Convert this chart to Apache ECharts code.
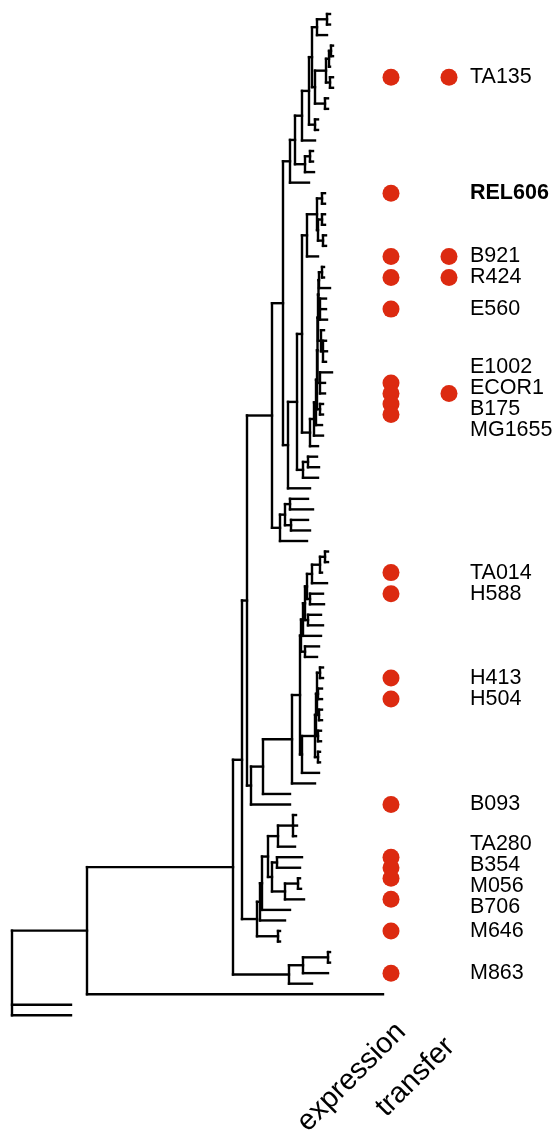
<!DOCTYPE html>
<html>
<head>
<meta charset="utf-8">
<script src="https://cdn.jsdelivr.net/npm/echarts/dist/echarts.min.js"></script>
<style>
  html, body { margin: 0; padding: 0; background: #ffffff; }
  #chart { width: 555px; height: 1134px; }
</style>
</head>
<body>
<div id="chart"></div>
<script>
// ---------------- DATA ----------------
// Phylogeny in Newick form; the number after ":" is the node's depth from the root.
const TOP_CLADE = "(((((((:318,:318):315,:315):305,((((:321,:321):319,:318):317,(TA135:321,:321):318):314,(:316,:316):313):303):300,(:306,:306):303):297,:303):290,((:301,:301):298,:302):293):283,:297):278";
const REL_CLADE = "(((REL606:313,:313):310,((:313,:313):310,(:314,:314):311):306):305,B921:306):295";
const K12_CLADE = "(((((((((:312,R424:312):310,:318):307,(:314,E560:314,:315):308):306.5,(:312,(:314,:315,:314):311):309):306,(:320,E1002:313,ECOR1:313):308):305.5,(B175:311,MG1655:311):308):305,:310):304,:311):302,:306):298";
const S_CLADE   = "((:305,:307):296,:306):291";
const K_CLADE   = "(((:296,:301):278,(:296,:298):279):273,:295):268";
const H1_CLADE  = "(((((((:316,:316):313,TA014:310):308,:315):300,(H588:311,:312):298):295,(:309,:311):296):293,:309):291,(:307,:305):293):289";
const H2_CLADE  = "(((((:311,H413:311):308,(:310,H504:310):306,(:310,:310):307):305,(:309,:309):306):304,(:308,:308):306):303,:307):290";
const TA_CLADE  = "((((((:284,:285,:284):281,:283):266,((TA280:290,B354:288):265,((M056:288,:289):286,B706:292):273):260):256,:278):250,:273):248,(M646:268,:268):266):245";
const M_CLADE   = "(((:318,:318):316,M863:316):291,:300):277";
const OUT_TIP_DEPTH = 371;
const OUTGROUP_DEPTH = 59;

// Strains with marks
const strains    = ['TA135','REL606','B921','R424','E560','E1002','ECOR1','B175','MG1655','TA014','H588','H413','H504','B093','TA280','B354','M056','B706','M646','M863'];
const expression = [1,1,1,1,1,1,1,1,1,1,1,1,1,1,1,1,1,1,1,1];
const transfer   = [1,0,1,1,0,0,1,0,0,0,0,0,0,0,0,0,0,0,0,0];
const columns    = ['expression','transfer'];
const boldStrain = 'REL606';

// ---------------- BUILD ----------------
const MID = `(((${REL_CLADE},${K12_CLADE}):290,${S_CLADE}):285,:298):276`;
const A2 = `((${TOP_CLADE},${MID}):271,${K_CLADE}):260`;
const HCL = `((((${H1_CLADE},${H2_CLADE}):288,:303):280,:278):251,B093:278):239`;
const X247 = `(${A2},${HCL}):235`;
const NEWICK = `((((${X247},${TA_CLADE}):230,${M_CLADE}):221,:${OUT_TIP_DEPTH}):75,:${OUTGROUP_DEPTH},:${OUTGROUP_DEPTH});`;

function parseNewick(s) {
  let i = 0;
  function node() {
    const n = { children: [], name: '', depth: 0 };
    if (s[i] === '(') {
      i++;
      n.children.push(node());
      while (s[i] === ',') { i++; n.children.push(node()); }
      i++; // ')'
    }
    let name = '';
    while (i < s.length && !':,();'.includes(s[i])) name += s[i++];
    n.name = name;
    if (s[i] === ':') {
      i++;
      let num = '';
      while (i < s.length && /[0-9.eE+\-]/.test(s[i])) num += s[i++];
      n.depth = parseFloat(num);
    }
    return n;
  }
  return node();
}

const tree = parseNewick(NEWICK);
let leafCount = 0;
const tipIndex = {};
function layout(n) {
  if (!n.children.length) { n.y = leafCount++; if (n.name) tipIndex[n.name] = n.y; }
  else {
    n.children.forEach(layout);
    n.y = (n.children[0].y + n.children[n.children.length - 1].y) / 2;
  }
}
layout(tree);
const nTips = leafCount;

const segments = [];
function collect(n, parent) {
  if (parent) segments.push([parent.depth, n.y, n.depth, n.y]);
  if (n.children.length) {
    segments.push([n.depth, n.children[0].y, n.depth, n.children[n.children.length - 1].y]);
    n.children.forEach(c => collect(c, n));
  }
}
collect(tree, null);

// dots
const exprDots = [], transDots = [];
strains.forEach((s, k) => {
  if (expression[k]) exprDots.push([columns[0], tipIndex[s]]);
  if (transfer[k]) transDots.push([columns[1], tipIndex[s]]);
});

// label de-overlap (groups centred on their tips, minimum gap of 2 tips)
const MIN_GAP = 2;
const order = strains.map((s) => ({ name: s, tip: tipIndex[s] })).sort((a, b) => a.tip - b.tip);
let groups = order.map(o => [o]);
function place(g) { const m = g.reduce((a, o) => a + o.tip, 0) / g.length; g.forEach((o, k) => { o.pos = m + (k - (g.length - 1) / 2) * MIN_GAP; }); }
groups.forEach(place);
let changed = true;
while (changed) {
  changed = false;
  for (let k = 0; k < groups.length - 1; k++) {
    const a = groups[k], b = groups[k + 1];
    if (b[0].pos - a[a.length - 1].pos < MIN_GAP - 1e-6) {
      const g = a.concat(b); place(g);
      groups.splice(k, 2, g); changed = true; break;
    }
  }
}
const labelData = [];
groups.forEach(g => g.forEach(o => {
  labelData.push({
    name: o.name, value: [columns[1], o.pos],
    label: o.name === boldStrain ? { fontWeight: 'bold' } : {}
  });
}));

// ---------------- CHART ----------------
const FONT = '"Liberation Sans", Arial, Helvetica, sans-serif';
const TOP = 14, BOTTOM = 1134 - (14 + 95 * 10.54);
const RED = '#dc2a10';
const chart = echarts.init(document.getElementById('chart'), null, { renderer: 'canvas' });
chart.setOption({
  backgroundColor: '#ffffff',
  animation: false,
  grid: [
    { left: 12, width: 371, top: TOP, bottom: BOTTOM, containLabel: false, outerBoundsMode: 'none' },
    { left: 362, width: 116, top: TOP, bottom: BOTTOM, containLabel: false, outerBoundsMode: 'none' }
  ],
  xAxis: [
    { type: 'value', gridIndex: 0, min: 0, max: OUT_TIP_DEPTH, show: false },
    {
      type: 'category', gridIndex: 1, boundaryGap: true,
      data: [
        { value: columns[0] },
        { value: columns[1], textStyle: { padding: [4, 17, 0, 0], verticalAlign: 'top', align: 'right' } }
      ],
      axisLine: { show: false }, axisTick: { show: false }, splitLine: { show: false },
      axisLabel: { rotate: 45, margin: 2, fontSize: 29, color: '#000', fontFamily: FONT,
                   interval: 0, verticalAlign: 'top', align: 'right' }
    }
  ],
  yAxis: [
    { type: 'value', gridIndex: 0, min: 0, max: nTips - 1, inverse: true, show: false },
    { type: 'value', gridIndex: 1, min: 0, max: nTips - 1, inverse: true, show: false }
  ],
  series: [
    {
      type: 'custom', xAxisIndex: 0, yAxisIndex: 0, data: segments, clip: false, silent: true,
      encode: { x: [0, 2], y: [1, 3] },
      renderItem: function (params, api) {
        const p1 = api.coord([api.value(0), api.value(1)]);
        const p2 = api.coord([api.value(2), api.value(3)]);
        return { type: 'line', shape: { x1: p1[0], y1: p1[1], x2: p2[0], y2: p2[1] },
                 style: { stroke: '#000', lineWidth: 2.4, lineCap: 'square' } };
      }
    },
    {
      type: 'scatter', xAxisIndex: 1, yAxisIndex: 1, data: exprDots, symbolSize: 17,
      itemStyle: { color: RED, opacity: 1 }, silent: true
    },
    {
      type: 'scatter', xAxisIndex: 1, yAxisIndex: 1, data: transDots, symbolSize: 17,
      itemStyle: { color: RED, opacity: 1 }, silent: true
    },
    {
      type: 'scatter', xAxisIndex: 1, yAxisIndex: 1, data: labelData, symbolSize: 0, silent: true,
      itemStyle: { opacity: 1 },
      label: { show: true, position: 'right', distance: 21, formatter: '{b}', fontSize: 21.5,
               color: '#000', fontFamily: FONT }
    }
  ]
});
</script>
</body>
</html>
